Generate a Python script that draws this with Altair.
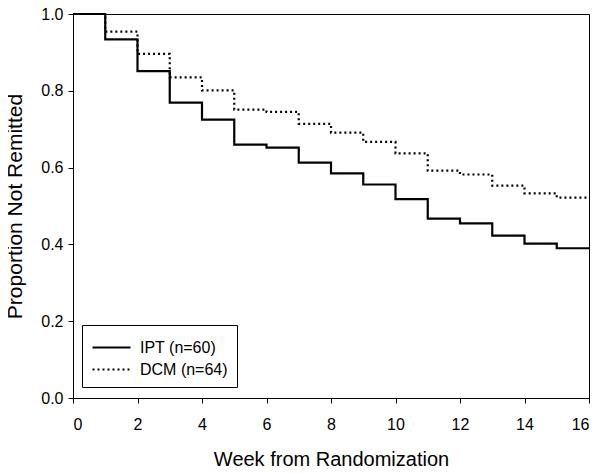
import altair as alt
import pandas as pd

weeks = list(range(0, 17))
ipt = [1.0, 0.934, 0.851, 0.769, 0.725, 0.660, 0.652, 0.613, 0.585, 0.556,
       0.518, 0.467, 0.455, 0.423, 0.402, 0.390, 0.390]
dcm = [1.0, 0.954, 0.896, 0.835, 0.801, 0.751, 0.745, 0.714, 0.691, 0.667,
       0.637, 0.592, 0.582, 0.553, 0.533, 0.522, 0.522]
groups = ["IPT (n=60)", "DCM (n=64)"]

rows = []
for w, v in zip(weeks, ipt):
    rows.append({"week": w, "p": v, "group": groups[0]})
for w, v in zip(weeks, dcm):
    rows.append({"week": w, "p": v, "group": groups[1]})
df = pd.DataFrame(rows)

FONT = "Liberation Sans"

chart = alt.Chart(df).mark_line(interpolate="step-after", strokeWidth=2.2, color="black").encode(
    x=alt.X("week:Q", scale=alt.Scale(domain=[0, 16], nice=False),
            axis=alt.Axis(title="Week from Randomization", values=list(range(0, 17, 2)),
                          grid=False, tickSize=5, labelPadding=13, titlePadding=17,
                          labelFontSize=16, titleFontSize=20, titleFontWeight="normal",
                          labelFont=FONT, titleFont=FONT, domainColor="black",
                          tickColor="black", labelColor="black", titleColor="black")),
    y=alt.Y("p:Q", scale=alt.Scale(domain=[0, 1], nice=False),
            axis=alt.Axis(title="Proportion Not Remitted", values=[0, 0.2, 0.4, 0.6, 0.8, 1.0],
                          format=".1f", grid=False, tickSize=5, labelPadding=5, titlePadding=15,
                          labelFontSize=16, titleFontSize=21, titleFontWeight="normal",
                          labelFont=FONT, titleFont=FONT, domainColor="black",
                          tickColor="black", labelColor="black", titleColor="black")),
    strokeDash=alt.StrokeDash("group:N",
                              scale=alt.Scale(domain=groups, range=[[1, 0], [2, 3]]),
                              legend=alt.Legend(title=None, orient="none", legendX=9, legendY=311,
                                                strokeColor="black", padding=9,
                                                symbolType="M-1,0H2.1667", symbolSize=576,
                                                symbolStrokeWidth=2.2, symbolStrokeColor="black",
                                                labelFontSize=16, labelFont=FONT,
                                                labelColor="black", rowPadding=-2,
                                                labelOffset=22,
                                                labelExpr="datum.label + '\u00a0\u00a0\u00a0'")),
    detail="group:N",
).properties(
    width=516, height=384,
    autosize=alt.AutoSizeParams(type="none"),
    padding={"left": 65, "top": 6, "right": 6, "bottom": 68},
).configure_view(stroke="black", strokeWidth=1)

chart.save("out.html", embed_options={"renderer": "svg", "actions": False})
